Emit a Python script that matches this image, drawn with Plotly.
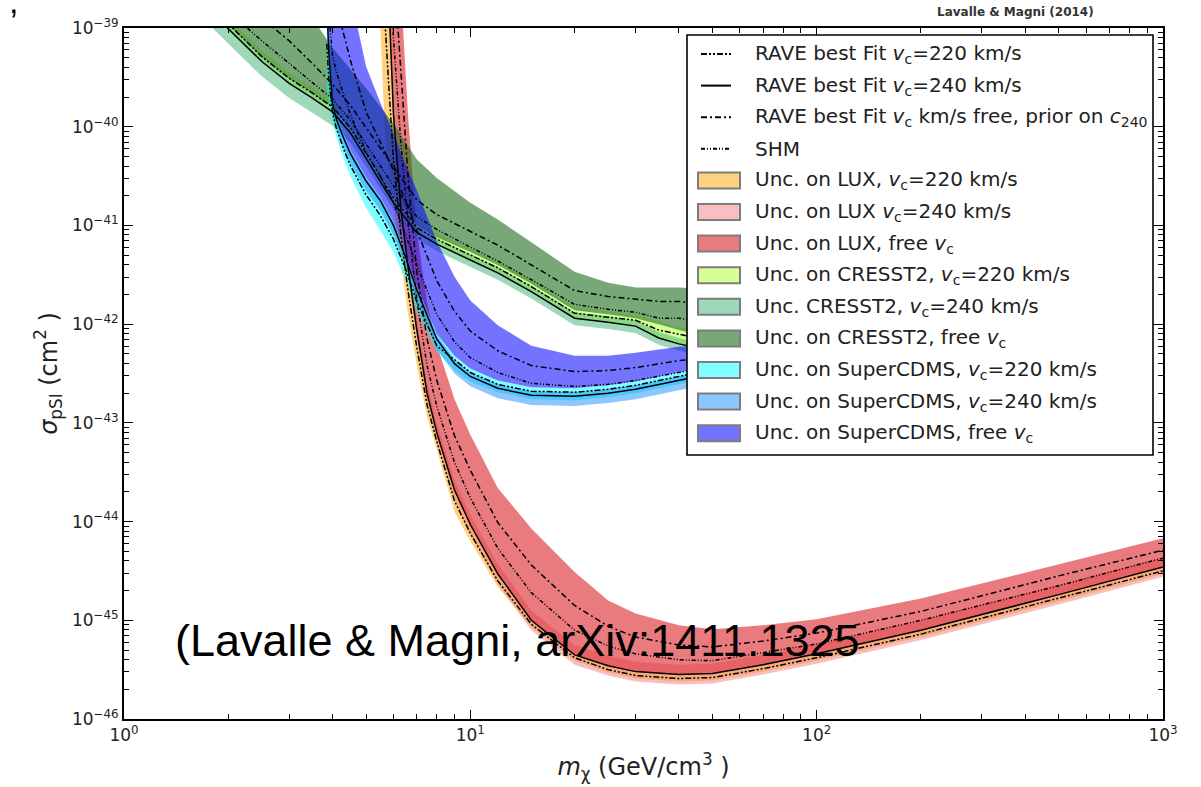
import plotly.graph_objects as go

# ---------------- data (log10 of sigma_pSI in cm^2) ----------------
# LUX
lux_m = [5.5, 5.65, 5.8, 6.0, 6.3, 6.6, 7.0, 7.5, 8, 9, 10, 12, 15, 20, 25, 30, 40, 50, 70, 100, 200, 500, 1000]
lux_240 = [-36.6, -37.7, -38.61, -39.88, -40.83, -41.41, -42.05, -42.70, -43.10, -43.68, -44.03, -44.53, -45.00, -45.35, -45.46, -45.52, -45.55, -45.54, -45.45, -45.34, -45.10, -44.74, -44.46]
lux_220 = [-37.8, -38.85, -39.52, -40.34, -41.09, -41.65, -42.23, -42.82, -43.19, -43.79, -44.12, -44.60, -45.04, -45.38, -45.50, -45.56, -45.59, -45.58, -45.49, -45.38, -45.14, -44.78, -44.50]
lux_free = [-35.64, -36.68, -37.64, -38.33, -39.49, -40.48, -41.46, -42.15, -42.57, -43.13, -43.48, -44.01, -44.44, -44.85, -45.06, -45.17, -45.25, -45.27, -45.21, -45.13, -44.91, -44.55, -44.29]
lux_shm = [-36.12, -37.19, -38.13, -39.11, -40.16, -40.95, -41.75, -42.42, -42.83, -43.40, -43.76, -44.27, -44.72, -45.10, -45.26, -45.34, -45.40, -45.41, -45.33, -45.24, -45.00, -44.65, -44.37]
lux_220_lo = [-39.0, -39.99, -40.42, -40.79, -41.34, -41.89, -42.41, -42.94, -43.27, -43.90, -44.20, -44.66, -45.07, -45.41, -45.53, -45.59, -45.62, -45.61, -45.52, -45.41, -45.17, -44.81, -44.53]
lux_240_lo = [-36.7, -37.8, -38.71, -39.98, -40.93, -41.51, -42.15, -42.80, -43.20, -43.78, -44.13, -44.63, -45.10, -45.45, -45.56, -45.62, -45.65, -45.64, -45.55, -45.44, -45.20, -44.84, -44.56]
lux_240_hi = [-36.5, -37.6, -38.51, -39.78, -40.73, -41.31, -41.95, -42.60, -43.00, -43.58, -43.93, -44.43, -44.90, -45.25, -45.36, -45.42, -45.45, -45.44, -45.35, -45.24, -45.00, -44.64, -44.36]
lux_free_hi = [-35.0, -36.0, -37.0, -37.3, -38.6, -39.86, -41.06, -41.78, -42.21, -42.76, -43.12, -43.66, -44.07, -44.51, -44.80, -44.93, -45.05, -45.09, -45.05, -44.99, -44.78, -44.43, -44.17]

# CRESST2
cre_m = [1.8, 2.0, 2.5, 3.0, 3.5, 4.0, 4.5, 5, 6, 7, 8, 10, 12, 15, 20, 25, 30, 35, 40, 45, 100]
cre_240 = [-38.85, -39.01, -39.34, -39.56, -39.71, -39.85, -40.06, -40.32, -40.77, -41.07, -41.19, -41.35, -41.48, -41.67, -41.94, -41.98, -42.02, -42.14, -42.20, -42.24, -42.50]
cre_220 = [-38.80, -38.96, -39.29, -39.51, -39.66, -39.80, -40.01, -40.27, -40.72, -41.02, -41.14, -41.30, -41.43, -41.62, -41.89, -41.93, -41.96, -42.06, -42.10, -42.14, -42.40]
cre_free = [-38.47, -38.62, -38.90, -39.13, -39.36, -39.57, -39.78, -40.01, -40.41, -40.74, -40.89, -41.06, -41.20, -41.40, -41.66, -41.72, -41.75, -41.77, -41.77, -41.79, -41.98]
cre_shm = [-38.67, -38.83, -39.13, -39.36, -39.55, -39.72, -39.93, -40.18, -40.60, -40.91, -41.04, -41.22, -41.36, -41.55, -41.80, -41.85, -41.88, -41.94, -41.94, -41.97, -42.19]
cre_220_hi = [-38.74, -38.90, -39.23, -39.45, -39.60, -39.74, -39.95, -40.21, -40.66, -40.96, -41.08, -41.24, -41.37, -41.56, -41.83, -41.87, -41.91, -41.97, -42.03, -42.07, -42.33]
cre_240_lo = [-39.00, -39.16, -39.49, -39.71, -39.86, -39.99, -40.16, -40.40, -40.84, -41.14, -41.26, -41.42, -41.55, -41.74, -42.01, -42.05, -42.09, -42.21, -42.27, -42.31, -42.57]
cre_240_hi = [-38.79, -38.95, -39.28, -39.50, -39.65, -39.79, -40.00, -40.26, -40.71, -41.01, -41.13, -41.29, -41.42, -41.61, -41.88, -41.92, -41.96, -42.08, -42.14, -42.18, -42.44]
cre_free_lo = [-38.80, -38.96, -39.29, -39.51, -39.66, -39.80, -40.01, -40.25, -40.70, -41.00, -41.12, -41.27, -41.40, -41.59, -41.86, -41.90, -41.94, -42.00, -42.06, -42.10, -42.36]
cre_free_hi = [-37.96, -38.11, -38.31, -38.56, -38.90, -39.20, -39.42, -39.61, -39.97, -40.33, -40.52, -40.77, -40.94, -41.17, -41.47, -41.58, -41.63, -41.63, -41.63, -41.64, -41.80]

# SuperCDMS
cdms_m = [3.85, 3.9, 4.0, 4.1, 4.3, 4.5, 5, 5.5, 6, 6.5, 7, 8, 9, 10, 12, 15, 20, 25, 30, 40, 50, 100]
cdms_240 = [-38.72, -39.24, -39.76, -39.92, -40.11, -40.27, -40.55, -40.75, -41.00, -41.32, -41.65, -42.15, -42.40, -42.53, -42.65, -42.72, -42.73, -42.70, -42.66, -42.57, -42.50, -42.26]
cdms_220 = [-39.16, -39.50, -39.86, -40.01, -40.22, -40.39, -40.69, -40.90, -41.14, -41.44, -41.77, -42.22, -42.36, -42.49, -42.61, -42.68, -42.69, -42.66, -42.62, -42.53, -42.46, -42.22]
cdms_free = [-37.93, -38.29, -38.60, -38.77, -39.05, -39.32, -39.85, -40.16, -40.44, -40.76, -41.04, -41.56, -41.87, -42.07, -42.27, -42.42, -42.48, -42.47, -42.44, -42.37, -42.33, -42.14]
cdms_shm = [-38.39, -38.84, -39.28, -39.44, -39.67, -39.87, -40.26, -40.50, -40.77, -41.09, -41.40, -41.90, -42.18, -42.34, -42.49, -42.60, -42.63, -42.61, -42.57, -42.49, -42.43, -42.21]
cdms_220_lo = [-39.6, -39.75, -39.95, -40.1, -40.32, -40.5, -40.82, -41.05, -41.27, -41.55, -41.88, -42.28, -42.47, -42.58, -42.69, -42.76, -42.77, -42.74, -42.70, -42.61, -42.54, -42.30]
cdms_220_hi = [-38.68, -39.20, -39.72, -39.88, -40.07, -40.23, -40.51, -40.71, -40.96, -41.28, -41.61, -42.10, -42.32, -42.45, -42.57, -42.64, -42.65, -42.62, -42.58, -42.49, -42.42, -42.18]
cdms_240_lo = [-38.82, -39.34, -39.86, -40.02, -40.21, -40.37, -40.65, -40.85, -41.10, -41.42, -41.75, -42.25, -42.50, -42.63, -42.75, -42.82, -42.83, -42.80, -42.76, -42.67, -42.60, -42.36]
cdms_240_hi = [-38.68, -39.20, -39.72, -39.88, -40.07, -40.23, -40.51, -40.71, -40.96, -41.28, -41.61, -42.11, -42.36, -42.49, -42.61, -42.68, -42.69, -42.66, -42.62, -42.53, -42.46, -42.22]
cdms_free_hi = [-37.4, -37.65, -37.83, -38.0, -38.35, -38.68, -39.39, -39.76, -40.07, -40.38, -40.64, -41.16, -41.52, -41.76, -42.01, -42.22, -42.32, -42.32, -42.29, -42.23, -42.21, -42.06]

# axis ticks
x_tickvals = [1, 10, 100, 1000]
x_ticktext = ["10<sup>0</sup>", "10<sup>1</sup>", "10<sup>2</sup>", "10<sup>3</sup>"]
y_exponents = [-46, -45, -44, -43, -42, -41, -40, -39]
y_ticktext = ["10<sup>−46</sup>", "10<sup>−45</sup>", "10<sup>−44</sup>", "10<sup>−43</sup>",
              "10<sup>−42</sup>", "10<sup>−41</sup>", "10<sup>−40</sup>", "10<sup>−39</sup>"]

VC = "<i>v</i><sub>c</sub>"
line_names = ["RAVE best Fit " + VC + "=220 km/s",
              "RAVE best Fit " + VC + "=240 km/s",
              "RAVE best Fit " + VC + " km/s free, prior on <i>c</i><sub>240</sub>",
              "SHM"]
band_names = ["Unc. on LUX, " + VC + "=220 km/s",
              "Unc. on LUX " + VC + "=240 km/s",
              "Unc. on LUX, free " + VC,
              "Unc. on CRESST2, " + VC + "=220 km/s",
              "Unc. CRESST2, " + VC + "=240 km/s",
              "Unc. on CRESST2, free " + VC,
              "Unc. on SuperCDMS, " + VC + "=220 km/s",
              "Unc. on SuperCDMS, " + VC + "=240 km/s",
              "Unc. on SuperCDMS, free " + VC]
band_colors = ["rgba(255,165,0,0.5)", "rgba(240,128,128,0.5)", "rgba(220,40,45,0.62)",
               "rgba(173,255,47,0.5)", "rgba(60,179,113,0.5)", "rgba(30,110,30,0.6)",
               "rgba(0,255,255,0.5)", "rgba(30,144,255,0.5)", "rgba(0,0,255,0.55)"]

D220 = "6px,2px,2px,2px,2px,2px"
D240 = "solid"
DFREE = "6px,3px,2px,3px"
DSHM = "4px,2px,1px,2px,1px,2px"
line_dashes = [D220, D240, DFREE, DSHM]

W, H = 1201, 787
ML, MR, MT, MB = 124, 38, 28, 68
PW, PH = W - ML - MR, H - MT - MB


def px(xp):
    return (xp - ML) / PW


def py(yp):
    return (H - MB - yp) / PH


def p(v):
    return [10 ** a for a in v]


fig = go.Figure()

bands = [
    (lux_m, lux_220_lo, lux_240),
    (lux_m, lux_240_lo, lux_240_hi),
    (lux_m, lux_240, lux_free_hi),
    (cre_m, cre_240, cre_220_hi),
    (cre_m, cre_240_lo, cre_240_hi),
    (cre_m, cre_free_lo, cre_free_hi),
    (cdms_m, cdms_220_lo, cdms_220_hi),
    (cdms_m, cdms_240_lo, cdms_240_hi),
    (cdms_m, cdms_220_hi, cdms_free_hi),
]
for (m, lo, hi), col, nm in zip(bands, band_colors, band_names):
    fig.add_trace(go.Scatter(x=m + m[::-1], y=p(lo) + p(hi)[::-1], mode="lines",
                             fill="toself", fillcolor=col, line=dict(width=0),
                             name=nm, hoverinfo="skip", showlegend=False))

lines = [
    (lux_m, [lux_220, lux_240, lux_free, lux_shm]),
    (cre_m, [cre_220, cre_240, cre_free, cre_shm]),
    (cdms_m, [cdms_220, cdms_240, cdms_free, cdms_shm]),
]
for m, sets in lines:
    for j, v in enumerate(sets):
        fig.add_trace(go.Scatter(x=m, y=p(v), mode="lines",
                                 line=dict(color="black", width=1.5, dash=line_dashes[j]),
                                 name=line_names[j], showlegend=False))

axis_common = dict(showline=True, linecolor="black", linewidth=1.8, mirror="ticks",
                   ticks="inside", ticklen=9, tickwidth=1.4, tickcolor="black",
                   showgrid=False, zeroline=False,
                   tickfont=dict(family="DejaVu Sans", size=17, color="#222"))

minor_x = [k * 10 ** e for e in range(0, 3) for k in range(2, 10)]
minor_y = [k * 10.0 ** e for e in range(-46, -39) for k in range(2, 10)]

fig.update_xaxes(type="log", range=[0, 3], tickvals=x_tickvals, ticktext=x_ticktext,
                 minor=dict(tickvals=minor_x, ticks="inside", ticklen=5, tickcolor="black", tickwidth=1.2),
                 title=dict(text="<i>m</i><sub>χ</sub> (GeV/cm<sup>3</sup> )",
                            font=dict(family="DejaVu Sans", size=24, color="#222"), standoff=14),
                 **axis_common)
fig.update_yaxes(type="log", range=[-46, -39], tickvals=[10.0 ** e for e in y_exponents],
                 ticktext=y_ticktext,
                 minor=dict(tickvals=minor_y, ticks="inside", ticklen=5, tickcolor="black", tickwidth=1.2),
                 title=dict(text="<i>σ</i><sub>pSI</sub> (cm<sup>2</sup> )",
                            font=dict(family="DejaVu Sans", size=24, color="#222"), standoff=8),
                 **axis_common)

# ---------------- legend (drawn manually to match the framed matplotlib legend) ----------------
shapes = [dict(type="rect", xref="paper", yref="paper", x0=px(687), x1=px(1153), y0=py(455), y1=py(35),
               fillcolor="white", line=dict(color="black", width=1.6), layer="above")]
annotations = []
row_y = [54 + 31.6 * i for i in range(13)]
for i, nm in enumerate(line_names):
    y = py(row_y[i])
    shapes.append(dict(type="line", xref="paper", yref="paper", x0=px(701), x1=px(731), y0=y, y1=y,
                       line=dict(color="black", width=2, dash=line_dashes[i]), layer="above"))
    annotations.append(dict(text=nm, xref="paper", yref="paper", x=px(753), y=y, xanchor="left",
                            yanchor="middle", showarrow=False,
                            font=dict(family="DejaVu Sans", size=20, color="#222")))
for k, (nm, col) in enumerate(zip(band_names, band_colors)):
    yc = row_y[4 + k]
    shapes.append(dict(type="rect", xref="paper", yref="paper", x0=px(698), x1=px(740),
                       y0=py(yc + 8), y1=py(yc - 8), fillcolor=col,
                       line=dict(color="rgb(125,125,125)", width=2), layer="above"))
    annotations.append(dict(text=nm, xref="paper", yref="paper", x=px(753), y=py(yc), xanchor="left",
                            yanchor="middle", showarrow=False,
                            font=dict(family="DejaVu Sans", size=20, color="#222")))

annotations += [
    dict(text="<b>Lavalle & Magni (2014)</b>", xref="paper", yref="paper", x=px(1015), y=py(12),
         xanchor="center", yanchor="middle", showarrow=False,
         font=dict(family="DejaVu Sans", size=12, color="#333")),
    dict(text="(Lavalle & Magni, arXiv:1411.1325", xref="paper", yref="paper",
         x=px(517), y=py(640), xanchor="center", yanchor="middle", showarrow=False,
         font=dict(family="Liberation Sans Narrow, Liberation Sans", size=45, color="black")),
    dict(text=",", xref="paper", yref="paper", x=px(13), y=py(1), xanchor="center", yanchor="middle",
         showarrow=False, font=dict(family="Liberation Sans", size=34, color="black")),
    dict(text="g<br>&nbsp;", xref="paper", yref="paper", x=px(681), y=py(60), xanchor="center",
         yanchor="bottom", showarrow=False,
         font=dict(family="Liberation Sans", size=55, color="black")),
]

fig.update_layout(
    width=W, height=H,
    margin=dict(l=ML, r=MR, t=MT, b=MB),
    paper_bgcolor="white", plot_bgcolor="white",
    showlegend=False,
    shapes=shapes,
    annotations=annotations,
)

fig.write_html("out.html")
